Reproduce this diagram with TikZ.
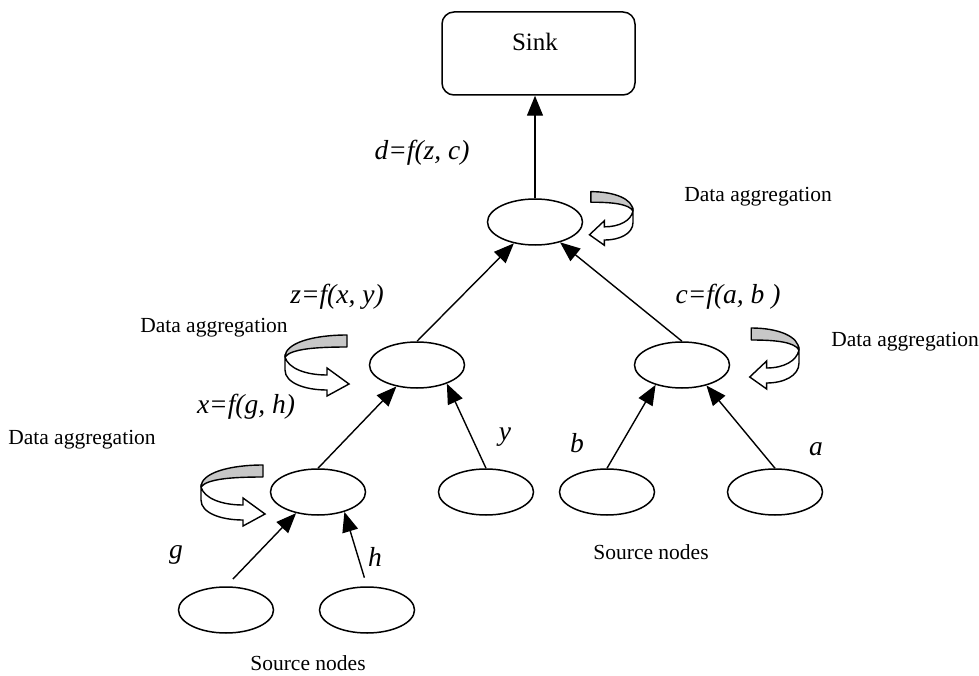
\documentclass[tikz,border=0pt]{standalone}
\usepackage{fontspec}
\setmainfont{Liberation Serif}
\usetikzlibrary{shapes.geometric,arrows.meta}
\tikzset{
  nd/.style={draw, ellipse, line width=1.5pt, minimum width=95pt, minimum height=46pt, inner sep=0pt},
  sinkbox/.style={draw, rectangle, rounded corners=12pt, line width=1.5pt, minimum width=193pt, minimum height=83pt},
  arr/.style={line width=1.4pt, -{Triangle[length=20pt,width=16pt]}},
  lbl/.style={font=\fontsize{27.5}{31}\selectfont\itshape, inner sep=0pt},
  agg/.style={font=\fontsize{21.5}{25}\selectfont, inner sep=0pt},
  aggr/.pic={
    \draw[line width=1.4pt, fill=black!22, line join=round]
      (0,0) .. controls (0,-14) and (28,-22) .. (62,-22) -- (62,-10)
      .. controls (30,-10) and (6,-8) .. (0,0) -- cycle;
    \draw[line width=1.4pt, fill=white, line join=miter]
      (0,0) .. controls (3,11) and (20,18) .. (42,18) -- (42,11) -- (64,27)
      -- (42,39) -- (42,33) .. controls (20,33) and (0,26) .. (0,13) -- cycle;
  }
}
\begin{document}
\begin{tikzpicture}[x=1pt,y=-1pt]
\useasboundingbox (0,0) rectangle (979,676);
% sink
\node[sinkbox] (sink) at (538.5,53.5) {};
\node[font=\fontsize{25}{30}\selectfont, inner sep=0pt] (sinktxt) at (535,42) {Sink};
% nodes
\node[nd] (d) at (535,222) {};
\node[nd] (z) at (417,365) {};
\node[nd] (c) at (682,365) {};
\node[nd] (x) at (318,492) {};
\node[nd] (y) at (486,492) {};
\node[nd] (b) at (607,492) {};
\node[nd] (a) at (775,492) {};
\node[nd] (g) at (226,610) {};
\node[nd] (h) at (367,610) {};
% connectors
\draw[arr] (d.north) -- (d.north |- sink.south);
\draw[arr] (z.north) -- (d);
\draw[arr] (c.north) -- (d);
\draw[arr] (x.north) -- (z);
\draw[arr] (y.north) -- (z.-32);
\draw[arr] (b.north) -- (c.217);
\draw[arr] (a.north) -- (c.-40);
\draw[arr, shorten <=10pt] (g.north) -- (x.-136);
\draw[arr, shorten <=9pt] (h.north) -- (x.-37);
% aggregation arrows
\pic at (285,357) {aggr};
\pic at (201,487) {aggr};
\pic[xscale=-0.68, yscale=0.88] at (633,211) {aggr};
\pic[xscale=-0.77] at (799,350) {aggr};
% labels
\node[lbl] (ld) at (422,153) {d=f(z, c)};
\node[lbl] (lz) at (337,297) {z=f(x, y)};
\node[lbl] (lc) at (728,297) {c=f(a, b )};
\node[lbl] (lx) at (246,407) {x=f(g, h)};
\node[lbl] (ly) at (505,437) {y};
\node[lbl] (lb) at (577,443) {b};
\node[lbl] (la) at (816,449) {a};
\node[lbl] (lg) at (176,555) {g};
\node[lbl] (lh) at (375,557) {h};
\node[agg] (ag1) at (758,197) {Data aggregation};
\node[agg] (ag2) at (214,328) {Data aggregation};
\node[agg] (ag3) at (905,342) {Data aggregation};
\node[agg] (ag4) at (82,440) {Data aggregation};
\node[agg] (src1) at (651,552) {Source nodes};
\node[agg] (src2) at (308,663) {Source nodes};
\end{tikzpicture}
\end{document}
